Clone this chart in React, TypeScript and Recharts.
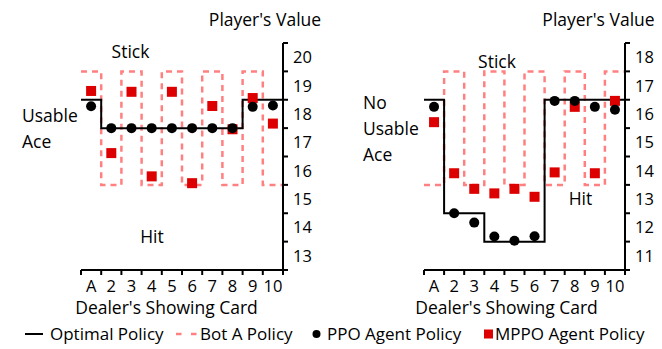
import { ComposedChart, Line, Scatter, XAxis, YAxis } from 'recharts'

const cards = ['A', '2', '3', '4', '5', '6', '7', '8', '9', '10']

// usable ace panel (player's value, band centred on the integer)
const usableOptimal = [18.5, 17.5, 17.5, 17.5, 17.5, 17.5, 17.5, 17.5, 18.5, 18.5]
const usableBotA = [19.5, 15.5, 19.5, 15.5, 19.5, 15.5, 19.5, 15.5, 19.5, 15.5]
const usablePPO = [18.27, 17.5, 17.5, 17.5, 17.5, 17.5, 17.5, 17.5, 18.25, 18.3]
const usableMPPO = [18.81, 16.62, 18.78, 15.8, 18.78, 15.56, 18.28, 17.46, 18.56, 17.66]

// no usable ace panel
const noAceOptimal = [16.5, 12.5, 12.5, 11.5, 11.5, 11.5, 16.5, 16.5, 16.5, 16.5]
const noAceBotA = [13.5, 17.5, 13.5, 17.5, 13.5, 17.5, 13.5, 17.5, 13.5, 17.5]
const noAcePPO = [16.25, 12.5, 12.17, 11.68, 11.53, 11.69, 16.46, 16.46, 16.25, 16.15]
const noAceMPPO = [15.71, 13.91, 13.36, 13.2, 13.36, 13.08, 13.94, 16.25, 13.91, 16.46]

const usableRange: [number, number] = [12.5, 20.5]
const noAceRange: [number, number] = [10.5, 18.5]

const FONT = '"Open Sans", sans-serif'
const PINK = '#ff8080'
const RED = '#dd0000'

const stepPoints = (values: number[]) => {
  const pts = values.map((y, i) => ({ x: i + 0.5, y }))
  pts.push({ x: values.length + 0.5, y: values[values.length - 1] })
  return pts
}
const cardPoints = (values: number[]) => values.map((y, i) => ({ x: i + 1, y }))
const edges = (lo: number, hi: number) => {
  const out: number[] = []
  for (let v = lo; v <= hi; v++) out.push(v)
  return out
}

const axisStyle = { stroke: '#000', strokeWidth: 2 }

function Panel({ left, plotLeft, plotWidth, range, optimal, botA, ppo, mppo }: any) {
  const plotHeight = 227
  const halfY = plotHeight / (range[1] - range[0]) / 2
  const halfX = plotWidth / cards.length / 2
  return (
    <div style={{ position: 'absolute', left, top: 0 }}>
      <ComposedChart width={plotLeft + plotWidth + 36} height={349} margin={{ top: 43, left: plotLeft, right: 0, bottom: 49 }}>
        <XAxis
          type="number"
          dataKey="x"
          domain={[0.5, cards.length + 0.5]}
          ticks={edges(0.5, cards.length + 0.5)}
          interval={0}
          height={30}
          tickSize={5}
          tickMargin={2}
          axisLine={axisStyle}
          tickLine={axisStyle}
          allowDataOverflow
          tick={({ x, y, payload }: any) =>
            payload.value > cards.length ? <g /> : (
              <text x={x + halfX} y={y} dy={15} textAnchor="middle" fontSize={16.5} fontFamily={FONT} fill="#000">
                {cards[payload.value - 0.5]}
              </text>
            )
          }
        />
        <YAxis
          type="number"
          dataKey="y"
          orientation="right"
          domain={range}
          ticks={edges(range[0], range[1])}
          interval={0}
          width={36}
          tickSize={5}
          tickMargin={5}
          axisLine={axisStyle}
          tickLine={axisStyle}
          allowDataOverflow
          tick={({ x, y, payload }: any) =>
            payload.value >= range[1] ? <g /> : (
              <text x={x} y={y - halfY} dy={6} textAnchor="start" fontSize={16.5} fontFamily={FONT} fill="#000">
                {payload.value + 0.5}
              </text>
            )
          }
        />
        <Line data={stepPoints(botA)} dataKey="y" type="stepAfter" stroke={PINK} strokeWidth={2.5} strokeDasharray="6 5" dot={false} activeDot={false} isAnimationActive={false} />
        <Line data={stepPoints(optimal)} dataKey="y" type="stepAfter" stroke="#000" strokeWidth={2} dot={false} activeDot={false} isAnimationActive={false} />
        <Scatter
          data={cardPoints(mppo)}
          isAnimationActive={false}
          shape={(p: any) => <rect x={p.cx - 5} y={p.cy - 5} width={10} height={10} fill={RED} />}
        />
        <Scatter
          data={cardPoints(ppo)}
          isAnimationActive={false}
          shape={(p: any) => <circle cx={p.cx} cy={p.cy} r={5} fill="#000" />}
        />
      </ComposedChart>
    </div>
  )
}

const T = ({ x, y, anchor = 'start', size = 17.5, children }: any) => (
  <text x={x} y={y} textAnchor={anchor} fontSize={size} fontFamily={FONT} fill="#000">{children}</text>
)

export default function App() {
  return (
    <div style={{ position: 'absolute', left: 0, top: 0, width: 662, height: 349, overflow: 'hidden', background: '#fff' }}>
      <Panel left={0} plotLeft={81} plotWidth={202} range={usableRange} optimal={usableOptimal} botA={usableBotA} ppo={usablePPO} mppo={usableMPPO} />
      <Panel left={331} plotLeft={93} plotWidth={201} range={noAceRange} optimal={noAceOptimal} botA={noAceBotA} ppo={noAcePPO} mppo={noAceMPPO} />
      <svg width={662} height={349} style={{ position: 'absolute', left: 0, top: 0, pointerEvents: 'none' }}>
        <T x={265} y={25.5} anchor="middle">Player's Value</T>
        <T x={130.5} y={57.5} anchor="middle">Stick</T>
        <T x={152} y={243} anchor="middle">Hit</T>
        <T x={22} y={122}>Usable</T>
        <T x={22} y={147.5}>Ace</T>
        <T x={166.5} y={314} anchor="middle">Dealer's Showing Card</T>

        <T x={598.5} y={25.5} anchor="middle">Player's Value</T>
        <T x={497} y={67.5} anchor="middle">Stick</T>
        <T x={580.5} y={205} anchor="middle">Hit</T>
        <T x={363} y={109}>No</T>
        <T x={363} y={135}>Usable</T>
        <T x={363} y={160.5}>Ace</T>
        <T x={506.5} y={314} anchor="middle">Dealer's Showing Card</T>

        <line x1={25} x2={43} y1={334} y2={334} stroke="#000" strokeWidth={2} />
        <T x={50} y={340} size={17}>Optimal Policy</T>
        <line x1={176} x2={197} y1={334} y2={334} stroke={PINK} strokeWidth={2.5} strokeDasharray="5.5 9.5" />
        <T x={200} y={340} size={17}>Bot A Policy</T>
        <circle cx={316.5} cy={334} r={4} fill="#000" />
        <T x={327} y={340} size={17}>PPO Agent Policy</T>
        <rect x={484} y={329.5} width={9} height={9} fill={RED} />
        <T x={495} y={340} size={17}>MPPO Agent Policy</T>
      </svg>
    </div>
  )
}
